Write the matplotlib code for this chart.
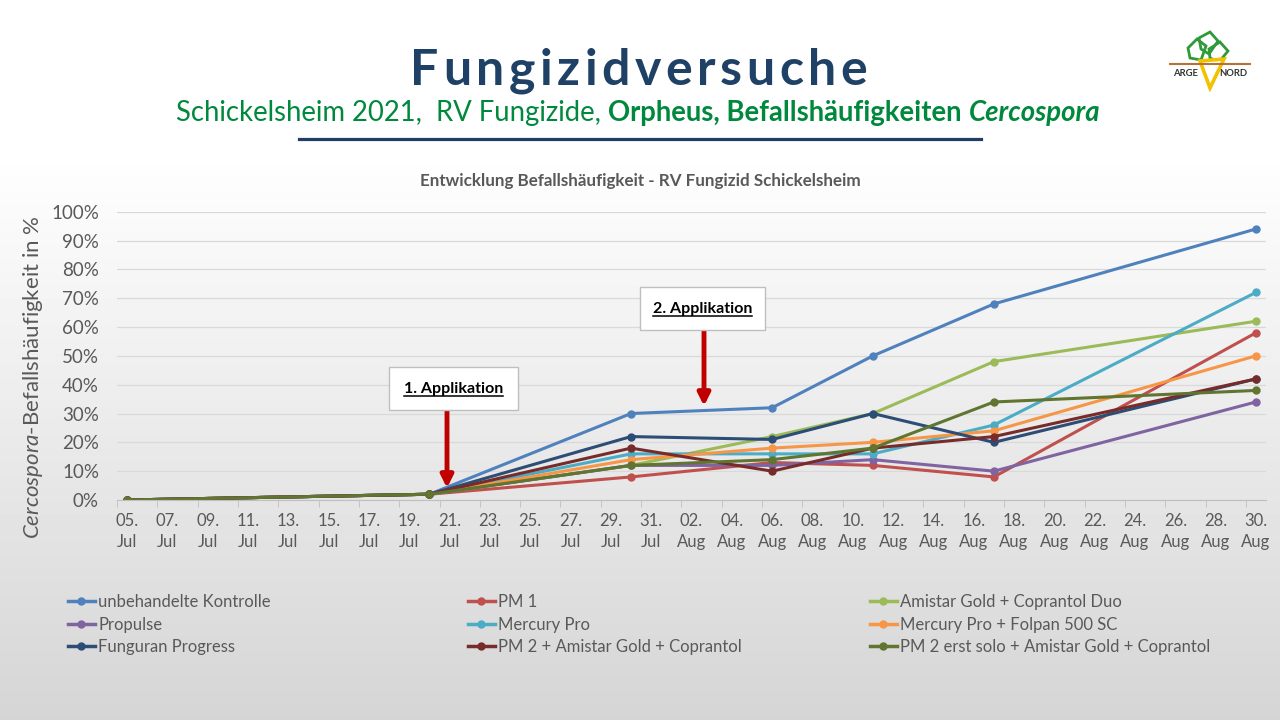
import matplotlib

matplotlib.use("Agg")
import matplotlib.pyplot as plt
import matplotlib.dates as mdates
import numpy as np
import pandas as pd
from matplotlib.lines import Line2D
from matplotlib.patches import Polygon, Rectangle

plt.rcParams["font.family"] = ["Lato", "DejaVu Sans"]

W, H = 1280, 720

# Messtermine
dates = pd.to_datetime([
    "2021-07-05", "2021-07-20", "2021-07-30", "2021-08-06",
    "2021-08-11", "2021-08-17", "2021-08-30",
]).to_pydatetime()

names = [
    "unbehandelte Kontrolle",
    "PM 1",
    "Amistar Gold + Coprantol Duo",
    "Propulse",
    "Mercury Pro",
    "Mercury Pro + Folpan 500 SC",
    "Funguran Progress",
    "PM 2 + Amistar Gold + Coprantol",
    "PM 2 erst solo + Amistar Gold + Coprantol",
]

# Befallshäufigkeit in %
unbehandelt = [0, 2, 30, 32, 50, 68, 94]
pm1 = [0, 2, 8, 13, 12, 8, 58]
amistar_duo = [0, 2, 12, 22, 30, 48, 62]
propulse = [0, 2, 12, 12, 14, 10, 34]
mercury = [0, 2, 16, 16, 16, 26, 72]
mercury_folpan = [0, 2, 14, 18, 20, 24, 50]
funguran = [0, 2, 22, 21, 30, 20, 42]
pm2_amistar = [0, 2, 18, 10, 18, 22, 42]
pm2_solo = [0, 2, 12, 14, 18, 34, 38]

values = [unbehandelt, pm1, amistar_duo, propulse, mercury,
          mercury_folpan, funguran, pm2_amistar, pm2_solo]
colors = ["#4F81BD", "#C0504D", "#9BBB59", "#8064A2", "#4BACC6",
          "#F79646", "#2C4D75", "#772C2A", "#5F7530"]

tick_dates = pd.date_range("2021-07-05", "2021-08-30", freq="2D")
tick_labels = [d.strftime("%d.\n%b") for d in tick_dates]

fig = plt.figure(figsize=(W / 100, H / 100), dpi=100)

# Hintergrund-Verlauf
bg = fig.add_axes([0, 0, 1, 1], zorder=-10)
rows = np.arange(H)
shade = np.clip((rows - 150) / (H - 150), 0, 1)
grad = 1 - shade * (1 - 0.835)
bg.imshow(grad[:, None], cmap="gray", vmin=0, vmax=1, aspect="auto",
          extent=[0, 1, 0, 1], origin="upper")
bg.axis("off")

ax = fig.add_axes([117 / W, (H - 500) / H, (1266 - 117) / W, 288.3 / H])
ax.set_facecolor("none")

for vals, c in zip(values, colors):
    ax.plot(dates, np.array(vals) / 100, color=c, lw=2.2, marker="o",
            ms=5, solid_joinstyle="round")

ax.set_ylim(0, 1)
ax.set_xlim(mdates.date2num(pd.Timestamp("2021-07-04 12:00")),
            mdates.date2num(pd.Timestamp("2021-08-30 12:00")))
ax.set_yticks(np.arange(0, 1.01, 0.1))
ax.set_yticklabels([f"{int(round(v * 100))}%" for v in np.arange(0, 1.01, 0.1)])
ax.set_xticks(tick_dates.to_pydatetime())
ax.set_xticklabels(tick_labels)
ax.set_xticks((tick_dates - pd.Timedelta(hours=12)).to_pydatetime(), minor=True)
ax.tick_params(axis="x", which="major", length=0, pad=9, labelsize=12,
               labelcolor="#595959")
ax.tick_params(axis="x", which="minor", length=5, color="#BFBFBF")
ax.tick_params(axis="y", length=0, pad=13, labelsize=13.5, labelcolor="#595959")
for lab in ax.get_xticklabels():
    lab.set_linespacing(1.45)
ax.grid(axis="y", color="#D9D9D9", lw=0.9)
ax.set_axisbelow(True)
for s in ["top", "right", "left"]:
    ax.spines[s].set_visible(False)
ax.spines["bottom"].set_color("#BFBFBF")

plt.rcParams["mathtext.fontset"] = "custom"
plt.rcParams["mathtext.it"] = "Lato:italic"
plt.rcParams["mathtext.rm"] = "Lato"
fig.text(33 / W, 1 - 377 / H, r"$\it{Cercospora}$-Befallshäufigkeit in %",
         rotation=90, ha="center", va="center", fontsize=16, color="#595959")

renderer = fig.canvas.get_renderer()


def place_runs(runs, cx, y_px, target_w=None, gaps=None):
    texts = [fig.text(0, 1 - y_px / H, s, ha="left", va="baseline", **kw)
             for s, kw in runs]
    if gaps is None:
        gaps = [0] * len(texts)

    def widths():
        return [t.get_window_extent(renderer).width for t in texts]

    w = widths()
    if target_w:
        f = target_w / (sum(w) + sum(gaps[:-1]))
        for t in texts:
            t.set_fontsize(t.get_fontsize() * f)
        gaps = [g * f for g in gaps]
        w = widths()
    x = cx - (sum(w) + sum(gaps[:-1])) / 2
    for t, wi, g in zip(texts, w, gaps):
        t.set_x(x / W)
        x += wi + g
    return texts


# Haupttitel mit Sperrung
title = "Fungizidversuche"
tkw = dict(fontsize=36, fontweight="bold", color="#1F4166")
tt = [fig.text(0, 1 - 85 / H, ch, ha="left", va="baseline", **tkw) for ch in title]
tw = [t.get_window_extent(renderer).width for t in tt]
title_w = 457
gap = (title_w - sum(tw)) / (len(tt) - 1)
x = 639 - title_w / 2
for t, wi in zip(tt, tw):
    t.set_x(x / W)
    x += wi + gap

green = "#00893C"
place_runs([
    ("Schickelsheim 2021,  RV Fungizide,", dict(fontsize=17, color=green)),
    ("Orpheus, Befallshäufigkeiten", dict(fontsize=17, color=green, fontweight="bold")),
    ("Cercospora", dict(fontsize=17, color=green, fontweight="bold", style="italic")),
], 638, 121, target_w=927, gaps=[6, 6, 0])

fig.add_artist(Line2D([299 / W, 981 / W], [1 - 139 / H] * 2, color="#1F3D66", lw=2.3))

place_runs([("Entwicklung Befallshäufigkeit - RV Fungizid Schickelsheim",
             dict(fontsize=10.5, color="#595959", fontweight="bold"))],
           640, 186, target_w=445)

# Applikationen
for label, (bx0, by0, bx1, by1), base, (ax_x, ay0, ay1) in [
    ("1. Applikation", (389, 367, 518, 410), 393, (447, 411, 488)),
    ("2. Applikation", (640, 287, 765, 330), 313, (704, 331, 406)),
]:
    fig.add_artist(Rectangle((bx0 / W, 1 - by1 / H), (bx1 - bx0) / W, (by1 - by0) / H,
                             facecolor="white", edgecolor="#BFBFBF", lw=1,
                             transform=fig.transFigure, zorder=5))
    t = fig.text((bx0 + bx1) / 2 / W, 1 - base / H, label, ha="center",
                 va="baseline", fontsize=11.5, fontweight="bold", color="black",
                 zorder=6)
    bb = t.get_window_extent(renderer)
    fig.add_artist(Line2D([bb.x0 / W, bb.x1 / W], [1 - (base + 3) / H] * 2,
                          color="black", lw=1.1, zorder=6))
    ax.annotate("", xy=(ax_x, H - ay1), xytext=(ax_x, H - ay0),
                xycoords="figure pixels", textcoords="figure pixels",
                arrowprops=dict(arrowstyle="-|>", color="#C00000", lw=3.5,
                                mutation_scale=18, shrinkA=0, shrinkB=0),
                zorder=7)

# Legende in drei Spalten (zeilenweise wie im Original)
handles = [Line2D([], [], color=c, lw=2.5, marker="o", ms=5) for c in colors]
for col, xpx in enumerate([68, 468, 870]):
    idx = [col, col + 3, col + 6]
    fig.legend([handles[i] for i in idx], [names[i] for i in idx],
               loc="upper left", bbox_to_anchor=(xpx / W, 1 - 594 / H),
               frameon=False, fontsize=12, labelcolor="#595959",
               handlelength=1.6, handletextpad=0.2, labelspacing=0.4,
               borderpad=0, borderaxespad=0)

# Logo ARGE NORD
lg = fig.add_axes([1165 / W, 1 - 92 / H, 90 / W, 62 / H])
lg.set_xlim(1165, 1255)
lg.set_ylim(92, 30)
lg.axis("off")
for pts in [
    [(1188, 48), (1197, 39), (1206, 46), (1201, 60), (1190, 58)],
    [(1199, 38), (1210, 32), (1218, 41), (1209, 54), (1201, 49)],
    [(1209, 49), (1220, 42), (1228, 51), (1219, 62), (1210, 58)],
]:
    lg.add_patch(Polygon(pts, closed=True, fill=False, edgecolor="#2E9A3A", lw=2))
lg.plot([1170, 1250], [64, 64], color="#B5713A", lw=1.5)
lg.add_patch(Polygon([(1200, 61), (1224, 59), (1210, 88)], closed=True,
                     facecolor="white", edgecolor="#F2C200", lw=2.6))
lg.text(1185, 74, "ARGE", ha="center", va="center", fontsize=6.8,
        fontweight="bold", color="#333333")
lg.text(1233, 74, "NORD", ha="center", va="center", fontsize=6.8,
        fontweight="bold", color="#333333")

fig.savefig("out.png", dpi=100)
